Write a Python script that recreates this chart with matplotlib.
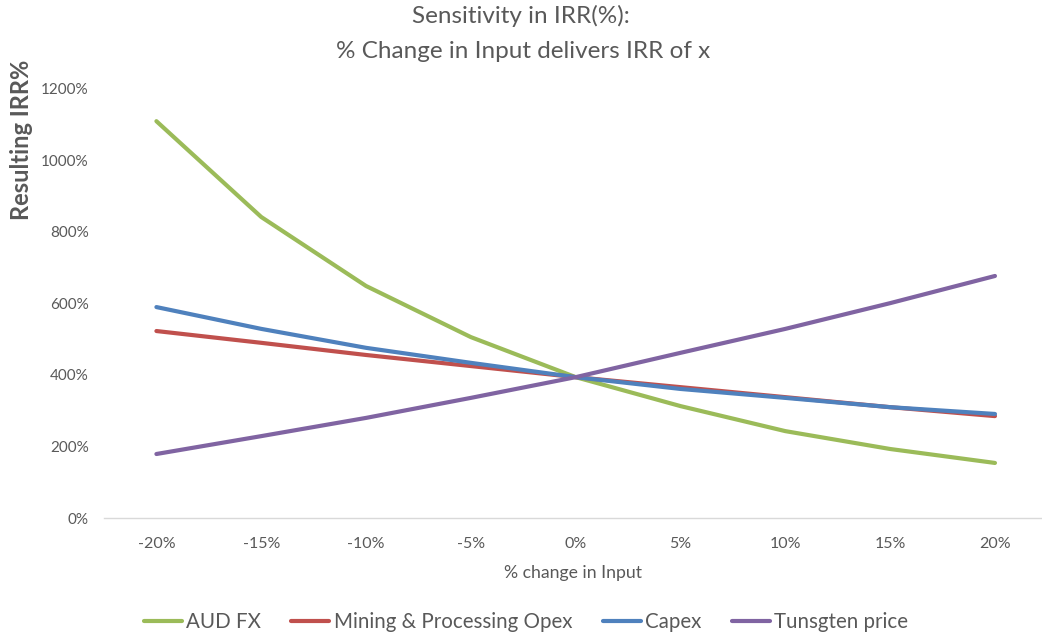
import matplotlib
matplotlib.use("Agg")
import matplotlib.pyplot as plt
from matplotlib.ticker import FuncFormatter

plt.rcParams['font.family'] = ['Lato', 'DejaVu Sans']

categories = ["-20%", "-15%", "-10%", "-5%", "0%", "5%", "10%", "15%", "20%"]
aud_fx = [1110, 842, 649, 506, 394, 313, 243, 193, 154]
mining_opex = [523, 490, 456, 425, 394, 366, 338, 310, 285]
capex = [590, 529, 476, 434, 394, 361, 336, 310, 291]
tungsten = [179, 229, 280, 336, 394, 462, 529, 601, 677]

series = [
    ("AUD FX", aud_fx, "#9BBB59"),
    ("Mining & Processing Opex", mining_opex, "#C0504D"),
    ("Capex", capex, "#4F81BD"),
    ("Tunsgten price", tungsten, "#8064A2"),
]

W, H = 1042, 633
fig = plt.figure(figsize=(W / 100, H / 100), dpi=100)
left, right, bottom, top = 104, 1042, 518, 89
ax = fig.add_axes([left / W, 1 - bottom / H, (right - left) / W, (bottom - top) / H])

x = list(range(len(categories)))
for name, vals, color in series:
    ax.plot(x, vals, color=color, lw=3.0, label=name, solid_capstyle='round')

ax.set_ylim(0, 1200)
ax.set_yticks(range(0, 1201, 200))
ax.yaxis.set_major_formatter(FuncFormatter(lambda v, p: f"{int(v)}%"))
ax.set_xlim(-0.5, 8 + 47 / 104.75)
ax.set_xticks(x)
ax.set_xticklabels(categories)

for s in ["top", "right", "left"]:
    ax.spines[s].set_visible(False)
ax.spines["bottom"].set_color("#D9D9D9")
ax.spines["bottom"].set_linewidth(1.0)
ax.tick_params(axis='both', length=0, labelsize=11.5, colors="#595959")
ax.tick_params(axis='x', pad=14)
ax.tick_params(axis='y', pad=11, labelsize=11)

ax.set_xlabel("% change in Input", fontsize=12.7, color="#595959", labelpad=10)
fig.text(22 / W, 1 - 140 / H, "Resulting IRR%", rotation=90, fontsize=17,
         fontweight='bold', color="#595959", ha='center', va='center')

fig.text(521 / W, 1 - 16 / H, "Sensitivity in IRR(%):", fontsize=17.5,
         color="#595959", ha='center', va='center')
fig.text(523 / W, 1 - 52 / H, "% Change in Input delivers IRR of x", fontsize=17.5,
         color="#595959", ha='center', va='center')

fig.legend(loc='center', bbox_to_anchor=(526 / W, 1 - 622 / H), ncol=4,
           frameon=False, fontsize=14.8, handlelength=1.85, handletextpad=0.2,
           columnspacing=1.5, labelcolor="#595959")

fig.savefig("out.png", dpi=100, facecolor="white")
